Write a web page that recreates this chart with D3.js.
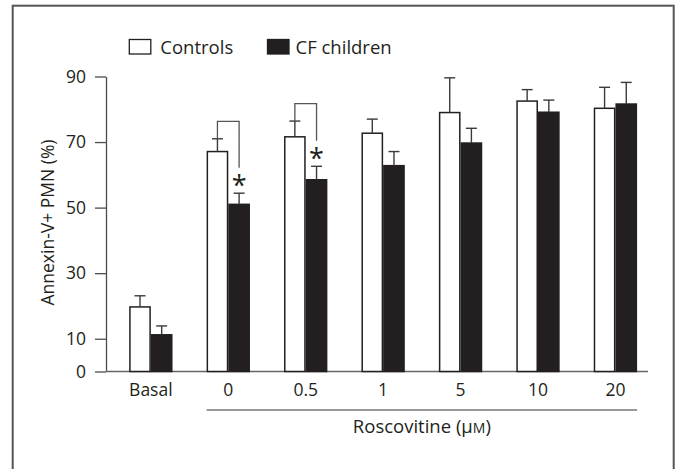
<!DOCTYPE html>
<html>
<head>
<meta charset="utf-8">
<script src="https://cdn.jsdelivr.net/npm/d3@7"></script>
<style>
  body { margin: 0; background: #fff; }
  text { font-family: "Open Sans", sans-serif; fill: #231f20; }
</style>
</head>
<body>
<svg id="chart"></svg>
<script>
const width = 678;
const height = 469;

// data
const categories = ["Basal", "0", "0.5", "1", "5", "10", "20"];
const groups = ["Controls", "CF children"];
const controls = [19.7, 67.1, 71.6, 72.7, 79.0, 82.5, 80.3];
const controlsErr = [3.4, 3.9, 4.8, 4.3, 10.6, 3.5, 6.4];
const cfChildren = [11.2, 51.0, 58.5, 62.8, 69.7, 79.1, 81.6];
const cfErr = [2.7, 3.4, 4.1, 4.3, 4.5, 3.7, 6.6];
const yTicks = [0, 10, 30, 50, 70, 90];
const significant = ["0", "0.5"];
const roscovitineDoses = ["0", "0.5", "1", "5", "10", "20"];

const ink = "#231f20";
const axisGray = "#4d4d4d";

const svg = d3.select("#chart")
    .attr("width", width)
    .attr("height", height);

// figure frame (open at the bottom)
svg.append("rect")
    .attr("x", 12.7)
    .attr("y", 5.7)
    .attr("width", 661)
    .attr("height", 480)
    .attr("fill", "none")
    .attr("stroke", "#555")
    .attr("stroke-width", 2);

const x = d3.scaleBand()
    .domain(categories)
    .range([106, 648])
    .paddingInner(0.44)
    .paddingOuter(0.22)
    .align(0.68);

const xSub = d3.scaleBand()
    .domain(groups)
    .range([0, x.bandwidth()]);

const y = d3.scaleLinear()
    .domain([0, 90])
    .range([371.5, 76.5]);

const rows = categories.map((c, i) => ({
    cat: c,
    values: [
        { group: "Controls", v: controls[i], e: controlsErr[i] },
        { group: "CF children", v: cfChildren[i], e: cfErr[i] }
    ]
}));

// y axis
const yAxis = svg.append("g")
    .attr("transform", "translate(106,0)")
    .call(d3.axisLeft(y).tickValues(yTicks).tickSize(11).tickPadding(9).tickSizeOuter(0));
yAxis.select(".domain").attr("stroke", axisGray).attr("stroke-width", 1.3);
yAxis.selectAll(".tick line").attr("stroke", axisGray).attr("stroke-width", 1.3);
yAxis.selectAll(".tick text")
    .attr("font-family", "Open Sans")
    .attr("font-size", 17.5)
    .attr("fill", ink);

// x axis baseline
svg.append("line")
    .attr("x1", 106)
    .attr("x2", 648)
    .attr("y1", y(0))
    .attr("y2", y(0))
    .attr("stroke", "#666")
    .attr("stroke-width", 1.5);

// bars
const groupG = svg.selectAll(".grp")
    .data(rows)
    .enter()
    .append("g")
    .attr("class", "grp")
    .attr("transform", d => `translate(${x(d.cat)},0)`);

groupG.selectAll("rect")
    .data(d => d.values)
    .enter()
    .append("rect")
    .attr("x", d => xSub(d.group) + 0.75)
    .attr("y", d => y(d.v))
    .attr("width", xSub.bandwidth() - 1.5)
    .attr("height", d => y(0) - y(d.v))
    .attr("fill", d => d.group === "Controls" ? "#fff" : ink)
    .attr("stroke", ink)
    .attr("stroke-width", 1.5);

// error bars (upper only)
const err = groupG.selectAll(".err")
    .data(d => d.values)
    .enter()
    .append("g")
    .attr("class", "err")
    .attr("transform", d => `translate(${xSub(d.group) + xSub.bandwidth() / 2},0)`);
err.append("line")
    .attr("x1", 0).attr("x2", 0)
    .attr("y1", d => y(d.v))
    .attr("y2", d => y(d.v + d.e))
    .attr("stroke", "#3a3a3a")
    .attr("stroke-width", 1.4);
err.append("line")
    .attr("x1", -5.5).attr("x2", 5.5)
    .attr("y1", d => y(d.v + d.e))
    .attr("y2", d => y(d.v + d.e))
    .attr("stroke", "#3a3a3a")
    .attr("stroke-width", 1.4);

// significance brackets and asterisks
const sig = svg.selectAll(".sig")
    .data(rows.filter(d => significant.includes(d.cat)))
    .enter()
    .append("g")
    .attr("class", "sig");
sig.append("path")
    .attr("fill", "none")
    .attr("stroke", "#555")
    .attr("stroke-width", 1.3)
    .attr("d", d => {
        const c = d.values[0], f = d.values[1];
        const x0 = x(d.cat) + xSub(c.group) + xSub.bandwidth() / 2;
        const x1 = x(d.cat) + xSub(f.group) + xSub.bandwidth() / 2;
        const top = y(c.v + c.e) - 17.5;
        return `M${x0},${y(c.v + c.e)}V${top}H${x1}V${y(f.v + f.e) - 25.5}`;
    });
sig.append("text")
    .attr("x", d => x(d.cat) + xSub(d.values[1].group) + xSub.bandwidth() / 2)
    .attr("y", d => y(d.values[1].v + d.values[1].e) + 2)
    .attr("text-anchor", "middle")
    .attr("font-size", 27)
    .text("*");

// x tick labels
svg.selectAll(".xlab")
    .data(categories)
    .enter()
    .append("text")
    .attr("class", "xlab")
    .attr("x", d => x(d) + x.bandwidth() / 2)
    .attr("y", 396)
    .attr("text-anchor", "middle")
    .attr("font-size", 17.5)
    .text(d => d);

// Roscovitine bracket line and label
svg.append("line")
    .attr("x1", x(roscovitineDoses[0]))
    .attr("x2", x(roscovitineDoses[roscovitineDoses.length - 1]) + x.bandwidth())
    .attr("y1", 410)
    .attr("y2", 410)
    .attr("stroke", "#777")
    .attr("stroke-width", 1.5);

const rosc = svg.append("text")
    .attr("x", (x(roscovitineDoses[0]) + x(roscovitineDoses[roscovitineDoses.length - 1]) + x.bandwidth()) / 2)
    .attr("y", 433)
    .attr("text-anchor", "middle")
    .attr("font-size", 18.5);
rosc.append("tspan").text("Roscovitine (μ");
rosc.append("tspan").attr("font-size", 14).text("M");
rosc.append("tspan").text(")");

// y axis title
svg.append("text")
    .attr("transform", "translate(54,222.5) rotate(-90)")
    .attr("text-anchor", "middle")
    .attr("font-size", 17.5)
    .text("Annexin-V+ PMN (%)");

// legend
const legendX = [129.3, 267.5];
const legendTextDx = [31, 28];
const legend = svg.selectAll(".leg")
    .data(groups)
    .enter()
    .append("g")
    .attr("class", "leg")
    .attr("transform", (d, i) => `translate(${legendX[i]},39.5)`);
legend.append("rect")
    .attr("width", 21.5)
    .attr("height", 14.5)
    .attr("fill", (d, i) => i === 0 ? "#fff" : ink)
    .attr("stroke", ink)
    .attr("stroke-width", 1.3);
legend.append("text")
    .attr("x", (d, i) => legendTextDx[i])
    .attr("y", 14.5)
    .attr("font-size", 18.5)
    .text(d => d);
</script>
</body>
</html>
